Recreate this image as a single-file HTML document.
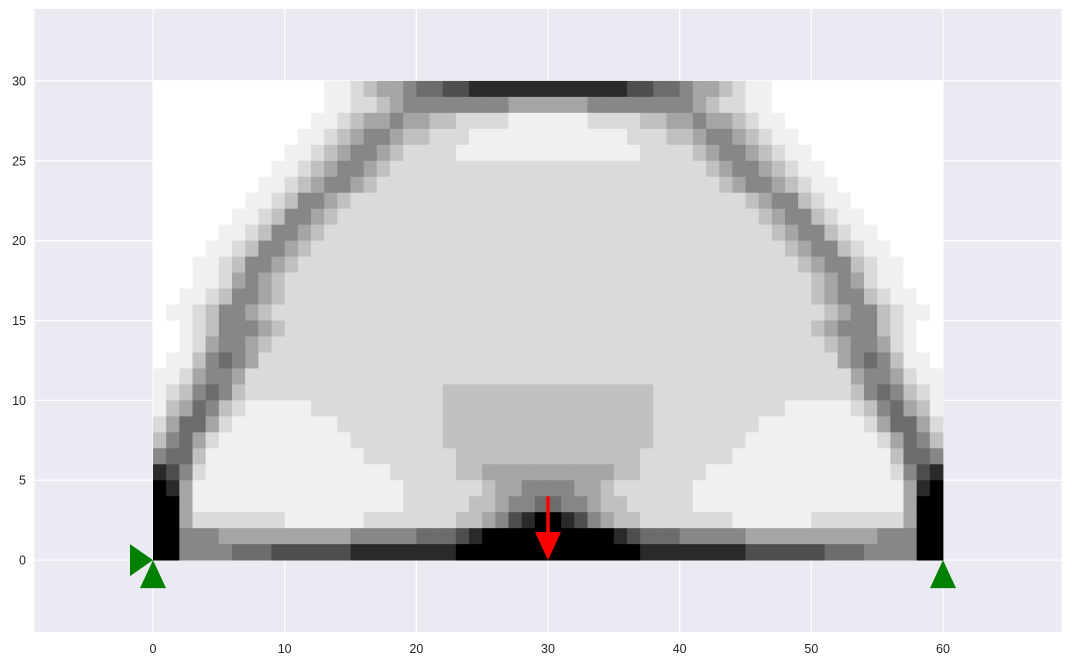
<!DOCTYPE html>
<html><head><meta charset="utf-8"><style>
html,body{margin:0;padding:0;background:#fff;}
svg text{font-family:"Liberation Sans",sans-serif;font-size:12.5px;fill:#262626;}
</style></head><body>
<svg id="chart" width="1072" height="666" xmlns="http://www.w3.org/2000/svg">
<rect x="34.5" y="9" width="1027" height="623" fill="#EAEAF2"/>
<g id="grid"></g>
<g id="cells"></g>
<g id="ticks"></g>
<g id="marks"></g>
</svg>
<script>
const xTicks = [0, 10, 20, 30, 40, 50, 60];
const yTicks = [0, 5, 10, 15, 20, 25, 30];
// density rows from top (y=29..30) to bottom (y=0..1); digits 0-9 = darkness level (spaces ignored)
const densityRows = [
"00000 00000 00011 23445 66778 88888 | 88888 87766 54432 11000 00000 00000",
"00000 00000 00011 22345 55555 55444 | 44455 55555 54322 11000 00000 00000",
"00000 00000 00112 34454 43322 22111 | 11122 22334 45443 21100 00000 00000",
"00000 00000 01123 45543 32221 11111 | 11111 12223 34554 32110 00000 00000",
"00000 00000 11234 55432 22211 11111 | 11111 11222 23455 43211 00000 00000",
"00000 00001 12345 54322 22222 22222 | 22222 22222 22345 54321 10000 00000",
"00000 00011 23455 43222 22222 22222 | 22222 22222 22234 55432 11000 00000",
"00000 00112 35543 22222 22222 22222 | 22222 22222 22222 34553 21100 00000",
"00000 01123 55432 22222 22222 22222 | 22222 22222 22222 23455 32110 00000",
"00000 11235 54322 22222 22222 22222 | 22222 22222 22222 22345 53211 00000",
"00001 12355 43222 22222 22222 22222 | 22222 22222 22222 22234 55321 10000",
"00011 23554 32222 22222 22222 22222 | 22222 22222 22222 22223 45532 11000",
"00011 24543 22222 22222 22222 22222 | 22222 22222 22222 22222 34542 11000",
"00112 35543 22222 22222 22222 22222 | 22222 22222 22222 22222 34553 21100",
"01123 55432 22222 22222 22222 22222 | 22222 22222 22222 22222 23455 32110",
"00123 55543 22222 22222 22222 22222 | 22222 22222 22222 22222 34555 32100",
"00124 55432 22222 22222 22222 22222 | 22222 22222 22222 22222 23455 42100",
"01135 65422 22222 22222 22222 22222 | 22222 22222 22222 22222 22456 53110",
"11245 54222 22222 22222 22222 22222 | 22222 22222 22222 22222 22245 54211",
"12356 53222 22222 22222 22333 33333 | 33333 33322 22222 22222 22235 65321",
"13465 32111 11222 22222 22333 33333 | 33333 33322 22222 22211 11123 56431",
"24664 21111 11112 22222 22333 33333 | 33333 33322 22222 21111 11112 46642",
"35642 11111 11111 22222 22333 33333 | 33333 33322 22222 11111 11111 24653",
"56631 11111 11111 12222 22233 33333 | 33333 33222 22221 11111 11111 13665",
"87521 11111 11111 11122 22233 44444 | 44444 33222 22111 11111 11111 12578",
"98411 11111 11111 11112 22222 34455 | 55443 22222 21111 11111 11111 11489",
"99411 11111 11111 11112 22223 34556 | 65543 32222 21111 11111 11111 11499",
"99422 22222 11111 12222 22233 45789 | 98754 33222 22221 11111 22222 22499",
"99555 44444 44444 55555 66678 99999 | 99999 87666 55555 44444 44444 55599",
"99555 56667 77777 88888 88899 99999 | 99999 99888 88888 77777 76665 55599"
];
const grayLevels = [255, 240, 218, 192, 165, 135, 108, 78, 42, 0];
const supports = [[-1, 0, 'right'], [0, -1, 'up'], [60, -1, 'up']];
const loadStart = [30, 4];
const loadEnd = [30, 0];

const X0 = -9, X1 = 69, Y0 = -4.5, Y1 = 34.5;
const PL = 34.5, PR = 1061.5, PT = 9, PB = 632;
function sx(v){ return PL + (v - X0) / (X1 - X0) * (PR - PL); }
function sy(v){ return PB - (v - Y0) / (Y1 - Y0) * (PB - PT); }
const NS = 'http://www.w3.org/2000/svg';
function mk(tag, attrs, parent){ const e = document.createElementNS(NS, tag); for (const k in attrs) e.setAttribute(k, attrs[k]); parent.appendChild(e); return e; }

const grid = document.getElementById('grid');
xTicks.forEach(t => {
  const l = mk('line', {x1: sx(t), x2: sx(t), y1: PT, y2: PB, stroke: '#fff', 'stroke-width': 1.2}, grid);
  
  
});
yTicks.forEach(t => {
  const l = mk('line', {x1: PL, x2: PR, y1: sy(t), y2: sy(t), stroke: '#fff', 'stroke-width': 1.2}, grid);
  
  
});

const cells = document.getElementById('cells');
const nRows = densityRows.length;
densityRows.forEach((rowStr, ri) => {
  const row = rowStr.replace(/[^0-9]/g, '');
  const yTop = nRows - ri;
  for (let c = 0; c < row.length; c++) {
    const g = grayLevels[parseInt(row[c], 10)];
    const x1 = sx(c), x2 = sx(c + 1), y1 = sy(yTop), y2 = sy(yTop - 1);
    const r = mk('rect', {x: x1, y: y1, width: x2 - x1 + 0.4, height: y2 - y1 + 0.4, fill: `rgb(${g},${g},${g})`}, cells);
    
    
  }
});

const ticks = document.getElementById('ticks');
xTicks.forEach(t => {
  const tx = mk('text', {x: sx(t), y: 653, 'text-anchor': 'middle'}, ticks);
  tx.textContent = t;
  
  
});
yTicks.forEach(t => {
  const tx = mk('text', {x: 26, y: sy(t) + 4.5, 'text-anchor': 'end'}, ticks);
  tx.textContent = t;
  
  
});

const marks = document.getElementById('marks');
supports.forEach(s => {
  let pts;
  if (s[2] === 'right') {
    const ax = sx(s[0] + 1), ay = sy(s[1]);
    pts = `${ax - 23},${ay - 16} ${ax - 23},${ay + 16} ${ax},${ay}`;
  } else {
    const ax = sx(s[0]), ay = sy(s[1] + 1);
    pts = `${ax},${ay} ${ax - 13},${ay + 28} ${ax + 13},${ay + 28}`;
  }
  const p = mk('polygon', {points: pts, fill: '#008000'}, marks);
  
  
});
const lx = sx(loadStart[0]), ly1 = sy(loadStart[1]), ly2 = sy(loadEnd[1]);
const shaft = mk('line', {x1: lx, x2: lx, y1: ly1, y2: ly2 - 26, stroke: '#ff0000', 'stroke-width': 3.5}, marks);


const head = mk('polygon', {points: `${lx - 13},${ly2 - 28} ${lx + 13},${ly2 - 28} ${lx},${ly2}`, fill: '#ff0000'}, marks);


</script>
</body></html>
